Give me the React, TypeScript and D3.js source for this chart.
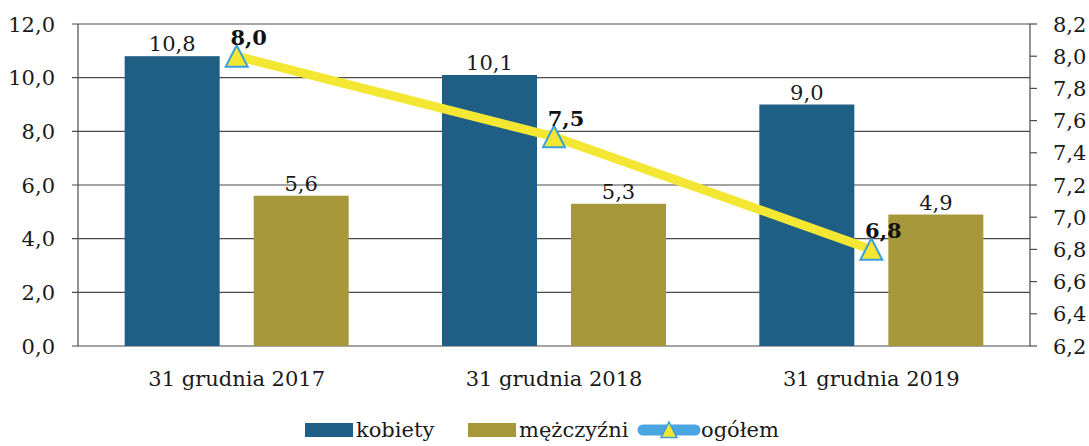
import React from "react";
import * as d3 from "d3";

const categories = ["31 grudnia 2017", "31 grudnia 2018", "31 grudnia 2019"];
const seriesNames = ["kobiety", "mężczyźni"];
const kobiety = [10.8, 10.1, 9.0];
const mezczyzni = [5.6, 5.3, 4.9];
const ogolem = [8.0, 7.5, 6.8];
const leftTicks = [0, 2, 4, 6, 8, 10, 12];
const rightTicks = [6.2, 6.4, 6.6, 6.8, 7.0, 7.2, 7.4, 7.6, 7.8, 8.0, 8.2];
const lineLabel = "ogółem";

const W = 1089;
const H = 446;
const left = 78;
const right = 1030;
const top = 24;
const bottom = 346;
const FONT = "'DejaVu Serif', serif";
const C_K = "#1f5f86";
const C_M = "#a6983a";
const C_LINE = "#f3e733";
const C_MARK_STROKE = "#3a9fdc";

const fmt = (v: number) => v.toFixed(1).replace(".", ",");

export default function App() {
  const x = d3.scaleBand<string>().domain(categories).range([left, right]).padding(0);
  const x1 = d3
    .scaleBand<string>()
    .domain(seriesNames)
    .range([0, x.bandwidth()])
    .paddingInner(0.2636)
    .paddingOuter(0.3616);
  const y = d3.scaleLinear().domain([0, 12]).range([bottom, top]);
  const y2 = d3.scaleLinear().domain([6.2, 8.2]).range([bottom, top]);
  const seriesValues = [kobiety, mezczyzni];
  const colors = [C_K, C_M];

  const cx = (c: string) => (x(c) as number) + x.bandwidth() / 2;
  const linePath = d3
    .line<number>()
    .x((_, i) => cx(categories[i]))
    .y((d) => y2(d))(ogolem) as string;

  const tri = (px: number, py: number, s = 11) =>
    `M${px},${py - s} L${px + s},${py + s * 0.95} L${px - s},${py + s * 0.95} Z`;

  return (
    <div style={{ position: "absolute", left: 0, top: 0 }}>
      <svg width={W} height={H} style={{ display: "block", background: "#fff" }}>
        {/* gridlines */}
        {leftTicks.map((t) => (
          <g key={"g" + t}>
            <line x1={left - 6} x2={right} y1={y(t)} y2={y(t)} stroke="#4a4a4a" strokeWidth={1.2} />
            <text
              x={55}
              y={y(t)}
              dy="0.36em"
              textAnchor="end"
              fontFamily={FONT}
              fontSize={21}
              fill="#1a1a1a"
            >
              {fmt(t)}
            </text>
          </g>
        ))}
        <line x1={left} x2={left} y1={top} y2={bottom} stroke="#4a4a4a" strokeWidth={1.2} />
        <line x1={right} x2={right} y1={top} y2={bottom} stroke="#4a4a4a" strokeWidth={1.2} />
        {rightTicks.map((t) => (
          <g key={"r" + t}>
            <line x1={right} x2={right + 7} y1={y2(t)} y2={y2(t)} stroke="#4a4a4a" strokeWidth={1.2} />
            <text
              x={1053}
              y={y2(t)}
              dy="0.36em"
              textAnchor="start"
              fontFamily={FONT}
              fontSize={21}
              fill="#1a1a1a"
            >
              {fmt(t)}
            </text>
          </g>
        ))}

        {/* bars */}
        {categories.map((c, ci) =>
          seriesNames.map((s, si) => {
            const v = seriesValues[si][ci];
            const bx = (x(c) as number) + (x1(s) as number);
            return (
              <g key={c + s}>
                <rect
                  x={bx}
                  y={y(v)}
                  width={x1.bandwidth()}
                  height={bottom - y(v)}
                  fill={colors[si]}
                />
                <text
                  x={bx + x1.bandwidth() / 2}
                  y={y(v) - 5}
                  textAnchor="middle"
                  fontFamily={FONT}
                  fontSize={21}
                  fill="#1a1a1a"
                >
                  {fmt(v)}
                </text>
              </g>
            );
          })
        )}

        {/* category labels */}
        {categories.map((c) => (
          <text
            key={"c" + c}
            x={cx(c)}
            y={386}
            textAnchor="middle"
            fontFamily={FONT}
            fontSize={21}
            fill="#1a1a1a"
          >
            {c}
          </text>
        ))}

        {/* line */}
        <path d={linePath} fill="none" stroke={C_LINE} strokeWidth={9} />
        {ogolem.map((v, i) => {
          const px = cx(categories[i]);
          const py = y2(v);
          return (
            <g key={"m" + i}>
              <path d={tri(px, py)} fill={C_LINE} stroke={C_MARK_STROKE} strokeWidth={2} />
              <text
                x={px + 12}
                y={py - 11}
                textAnchor="middle"
                fontFamily={FONT}
                fontSize={21}
                fontWeight="bold"
                fill="#111"
              >
                {fmt(v)}
              </text>
            </g>
          );
        })}

        {/* legend */}
        <g>
          <rect x={305} y={423} width={48} height={14} fill={C_K} />
          <text x={356} y={437} fontFamily={FONT} fontSize={21} fill="#1a1a1a">
            {seriesNames[0]}
          </text>
          <rect x={468} y={423} width={48} height={14} fill={C_M} />
          <text x={519} y={437} fontFamily={FONT} fontSize={21} fill="#1a1a1a">
            {seriesNames[1]}
          </text>
          <line
            x1={643}
            x2={695}
            y1={430}
            y2={430}
            stroke="#4aa6e0"
            strokeWidth={11}
            strokeLinecap="round"
          />
          <path d={tri(669, 430, 8)} fill={C_LINE} stroke={C_MARK_STROKE} strokeWidth={1.5} />
          <text x={701} y={437} fontFamily={FONT} fontSize={21} fill="#1a1a1a">
            {lineLabel}
          </text>
        </g>
      </svg>
    </div>
  );
}
